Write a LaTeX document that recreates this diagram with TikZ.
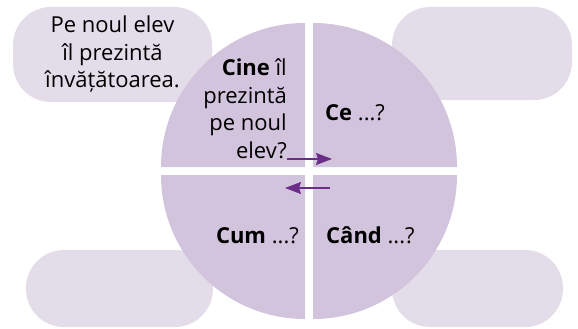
\documentclass[tikz,border=0pt]{standalone}
\usepackage{fontspec}
\setmainfont{Open Sans}
\usetikzlibrary{arrows.meta}
\definecolor{pillbg}{HTML}{E3DDEA}
\definecolor{diskbg}{HTML}{D3C4DE}
\definecolor{arrowcol}{HTML}{6B2D87}
\pgfdeclarelayer{pills}
\pgfdeclarelayer{disk}
\pgfsetlayers{pills,disk,main}

\begin{document}
\begin{tikzpicture}[
    x=1pt, y=-1pt,
    % 1. pill cards behind the disk
    pill/.style={
        fill=pillbg,
        draw=none,
        rounded corners=38pt,
        inner sep=0pt
    },
    % 2. quarter of the disk
    sector/.style={
        fill=diskbg,
        draw=none
    },
    % 3. texts
    qtext/.style={
        font=\fontsize{22}{27.5}\selectfont,
        inner sep=0pt,
        text=black
    },
    % 4. arrows between the quarters
    arrow/.style={
        -{Stealth[length=16pt, width=12pt, inset=2pt]},
        line width=1.6pt,
        draw=arrowcol
    }
]
    \useasboundingbox (0,0) rectangle (578,329);

    % --- 1. pills ---
    \begin{pgfonlayer}{pills}
        \node[pill, minimum width=199pt, minimum height=95pt] (pillTL) at (112.5,54.5) {};
        \node[pill, minimum width=180pt, minimum height=93pt] (pillTR) at (482,53.5) {};
        \node[pill, minimum width=187pt, minimum height=77pt] (pillBL) at (119.5,288.5) {};
        \node[pill, minimum width=171pt, minimum height=77pt] (pillBR) at (477.5,288.5) {};
    \end{pgfonlayer}

    % --- 2. disk in four quarters ---
    \begin{pgfonlayer}{disk}
        \fill[sector] (305,167) -- (161,167) arc[start angle=180, end angle=270, radius=144] -- cycle;
        \fill[sector] (313,167) -- (313,23) arc[start angle=270, end angle=360, radius=144] -- cycle;
        \fill[sector] (313,175) -- (457,175) arc[start angle=0, end angle=90, radius=144] -- cycle;
        \fill[sector] (305,175) -- (305,319) arc[start angle=90, end angle=180, radius=144] -- cycle;
    \end{pgfonlayer}

    % --- 3. texts ---
    \node[qtext, align=center] (answer) at (pillTL) {Pe noul elev\\îl prezintă\\învățătoarea.};
    \node[qtext, align=right, anchor=south east] (who) at (287,159) {\textbf{Cine} îl\\prezintă\\pe noul\\elev?};
    \node[qtext, anchor=base west] (what) at (325,120) {\textbf{Ce} ...?};
    \node[qtext, anchor=base east] (how) at (299,243) {\textbf{Cum} ...?};
    \node[qtext, anchor=base west] (when) at (326,243) {\textbf{Când} ...?};

    % --- 4. arrows ---
    \coordinate (whatend) at (332,159);
    \coordinate (backstart) at (330,188);
    \coordinate (backend) at (285,188);
    \draw[arrow] (who.south east) -- (whatend);
    \draw[arrow] (backstart) -- (backend);

\end{tikzpicture}
\end{document}
